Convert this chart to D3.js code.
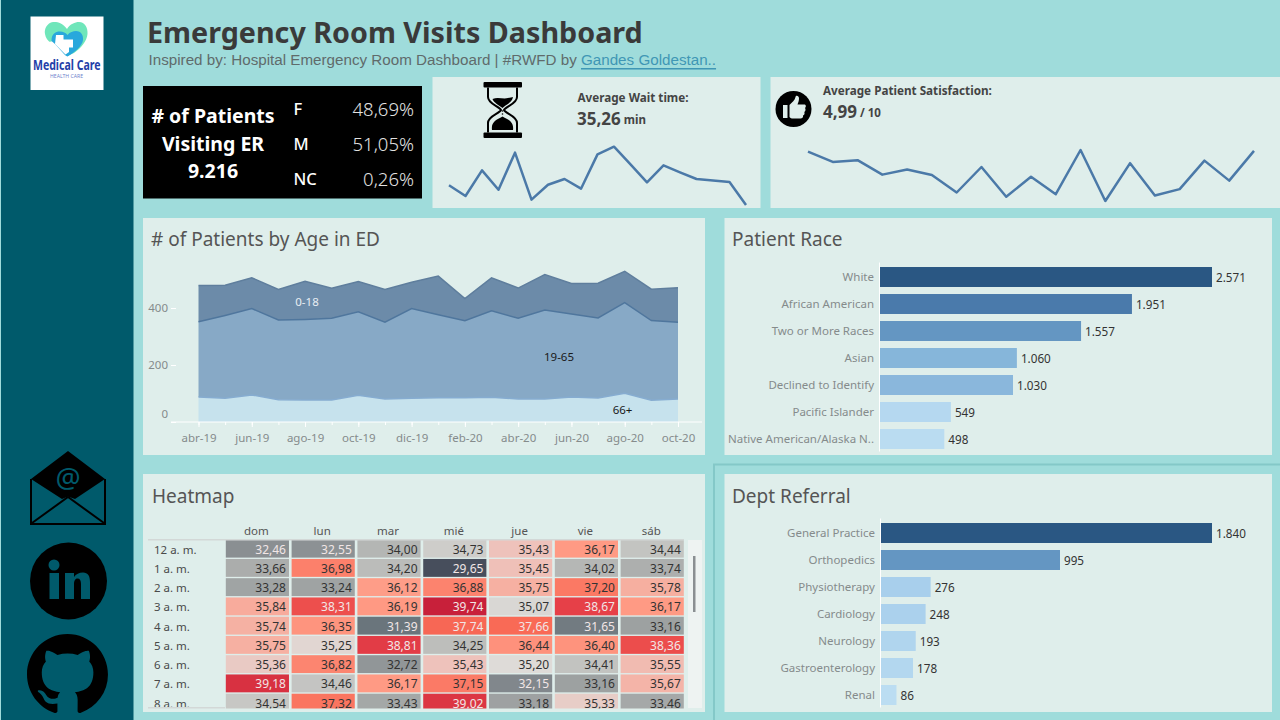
<!DOCTYPE html>
<html lang="es">
<head>
<meta charset="utf-8">
<title>Emergency Room Visits Dashboard</title>
<script src="https://cdn.jsdelivr.net/npm/d3@7"></script>
<style>
  html, body { margin: 0; padding: 0; background: #9fdcdb; overflow: hidden; }
  svg { display: block; }
  text { font-family: "Noto Sans", "Open Sans", sans-serif; }
</style>
</head>
<body>
<svg id="dash" width="1280" height="720"></svg>
<script>
// ---- Data ----------------------------------------------------------------
const months = ["abr-19","may-19","jun-19","jul-19","ago-19","sep-19","oct-19","nov-19","dic-19","ene-20",
                "feb-20","mar-20","abr-20","may-20","jun-20","jul-20","ago-20","sep-20","oct-20"];
const monthLabels = ["abr-19","jun-19","ago-19","oct-19","dic-19","feb-20","abr-20","jun-20","ago-20","oct-20"];
const ageTicks = [0, 200, 400];
const age66 =   [88,83,95,78,77,77,94,81,83,85,85,87,81,81,88,84,101,76,81];
const age1965 = [264,291,303,280,283,287,293,269,315,291,270,303,283,312,291,281,318,280,269];
const age018 =  [127,106,108,107,134,105,106,115,92,136,78,116,106,124,107,122,110,110,121];

const waitTrend = [34.69,33.77,35.97,34.31,37.49,33.46,34.74,35.23,34.40,37.34,38.00,36.49,34.94,36.40,35.80,35.23,35.11,34.97,33.00];
const satisfactionTrend = [5.56,5.32,5.36,5.02,5.14,5.01,4.60,5.20,4.50,4.97,4.56,5.60,4.40,5.29,4.53,4.68,5.35,4.88,5.58];

const raceNames = ["White","African American","Two or More Races","Asian","Declined to Identify","Pacific Islander","Native American/Alaska N.."];
const raceCounts = [2571,1951,1557,1060,1030,549,498];
const deptNames = ["General Practice","Orthopedics","Physiotherapy","Cardiology","Neurology","Gastroenterology","Renal"];
const deptCounts = [1840,995,276,248,193,178,86];

const genderLabels = ["F","M","NC"];
const genderShares = [48.69,51.05,0.26];
const totalPatients = 9216;
const avgWait = 35.26;
const avgSatisfaction = 4.99;

const weekDays = ["dom","lun","mar","mié","jue","vie","sáb"];
const hours = ["12 a. m.","1 a. m.","2 a. m.","3 a. m.","4 a. m.","5 a. m.","6 a. m.","7 a. m.","8 a. m."];
const waitByHour = [
  [32.46,32.55,34.00,34.73,35.43,36.17,34.44],
  [33.66,36.98,34.20,29.65,35.45,34.02,33.74],
  [33.28,33.24,36.12,36.88,35.75,37.20,35.78],
  [35.84,38.31,36.19,39.74,35.07,38.67,36.17],
  [35.74,36.35,31.39,37.74,37.66,31.65,33.16],
  [35.75,35.25,38.81,34.25,36.44,36.40,38.36],
  [35.36,36.82,32.72,35.43,35.20,34.41,35.55],
  [39.18,34.46,36.17,37.15,32.15,33.16,35.67],
  [34.54,37.32,33.43,39.02,33.18,35.33,33.46]
];

// ---- Palette and number formats (es locale: comma decimal, dot thousands) ----
const BG = "#9fdcdb", PANEL = "#dfeeeb", SIDE = "#005a6b", INK = "#3b3b3b", GREY = "#858b8b";
const es = d3.formatLocale({decimal: ",", thousands: ".", grouping: [3], currency: ["", "€"], percent: "%"});
const fmtInt = es.format(",d"), fmt2 = es.format(".2f");

const svg = d3.select("#dash");
const defs = svg.append("defs");

function panel(x, y, w, h) {
  svg.append("rect").attr("x", x).attr("y", y).attr("width", w).attr("height", h).attr("fill", PANEL);
}
function label(g, x, y, str, o = {}) {
  return g.append("text").attr("x", x).attr("y", y).text(str)
    .attr("dominant-baseline", "central")
    .attr("text-anchor", o.anchor || "start")
    .attr("font-size", o.size || 12)
    .attr("font-weight", o.weight || 400)
    .attr("fill", o.fill || INK);
}

// ---- Frame ---------------------------------------------------------------
svg.append("rect").attr("width", 1280).attr("height", 720).attr("fill", BG);
svg.append("rect").attr("x", 1).attr("width", 132.500).attr("height", 720).attr("fill", SIDE);
svg.append("path").attr("d", "M714,720V464.5H1280").attr("fill", "none").attr("stroke", "#84c8c8").attr("stroke-width", 2);

panel(432.5, 77, 328, 131);
panel(770.5, 77, 509.5, 131);
panel(143, 218, 562, 237);
panel(724.5, 218, 547.5, 237);
panel(143, 474, 562, 238);
panel(724.5, 474, 547.5, 238);
svg.append("rect").attr("x", 143).attr("y", 86).attr("width", 279).attr("height", 112.5).attr("fill", "#000");

// ---- Sidebar logo and contact icons -----------------------------------------
const side = svg.append("g");
side.append("rect").attr("x", 30.5).attr("y", 16.5).attr("width", 73).attr("height", 73.5).attr("fill", "#fff");
side.append("path").attr("fill", "#6fe6ba")
  .attr("d", "M67,29C63,23 57,21.500 53,22C47,23 44,29 45,34C45.500,38 48,41 51,43L67,56L74,53C81,48 87,41 87.500,34C88,28 85,22 79,22C75,22 70,24 67,29Z");
side.append("path").attr("fill", "#fff").attr("d", "M49,42L57,40L68,50V60H55Z");
side.append("path").attr("fill", "#29a8dc")
  .attr("d", "M51.500,41C51.500,34 55,31.500 60,31.500C63,31.500 66,33 67.500,35C70,32 73,31 76,31C81,31 83.500,35 83,40C82.500,46 74,53 67.500,56.500C66,56 65,55 64,54L55,44Z");
side.append("path").attr("fill", "#fff").attr("d", "M56,35H63.500V39.500H73V47.500H69V52L65.500,54.500L55,44Z");
side.append("text").attr("x", 33).attr("y", 70).attr("font-size", 13.500).attr("textLength", 67.500)
  .attr("lengthAdjust", "spacingAndGlyphs").attr("font-weight", 700).attr("fill", "#2340a8").text("Medical Care");
side.append("text").attr("x", 50).attr("y", 78).attr("font-size", 5).attr("textLength", 33)
  .attr("lengthAdjust", "spacingAndGlyphs").attr("fill", "#6f83cc").text("HEALTH CARE");

// envelope
side.append("path").attr("fill", "#000").attr("d", "M68,451L105,479L75,499L68,496.500L62,499L31,479Z");
side.append("path").attr("fill", "none").attr("stroke", "#000").attr("stroke-width", 2)
  .attr("d", "M31,479V524H105V479M32,523L68,497L104,523");
side.append("text").attr("x", 68).attr("y", 477).attr("text-anchor", "middle").attr("dominant-baseline", "central")
  .attr("font-size", 28).attr("fill", SIDE).text("@");

// LinkedIn badge
side.append("circle").attr("cx", 68.500).attr("cy", 581).attr("r", 38.500).attr("fill", "#000");
side.append("circle").attr("cx", 54).attr("cy", 565).attr("r", 5.500).attr("fill", SIDE);
side.append("rect").attr("x", 49.500).attr("y", 573).attr("width", 9.500).attr("height", 26).attr("fill", SIDE);
side.append("path").attr("fill", SIDE)
  .attr("d", "M65,573H74V577C76,574 79,572.500 83,572.500C88,572.500 90,576 90,582V599H81V584C81,580.500 80,578.500 77.500,578.500C75,578.500 74,581 74,584V599H65Z");

// GitHub mark, cut off by the lower window edge
side.append("path").attr("fill", "#000").attr("transform", "translate(27,634) scale(5.06)")
  .attr("d", "M8 0C3.58 0 0 3.58 0 8c0 3.54 2.29 6.53 5.47 7.59.4.07.55-.17.55-.38 0-.19-.01-.82-.01-1.49-2.01.37-2.53-.49-2.69-.94-.09-.23-.48-.94-.82-1.13-.28-.15-.68-.52-.01-.53.63-.01 1.08.58 1.23.82.72 1.21 1.87.87 2.33.66.07-.52.28-.87.51-1.07-1.78-.2-3.64-.89-3.64-3.95 0-.87.31-1.59.82-2.15-.08-.2-.36-1.02.08-2.12 0 0 .67-.21 2.2.82.64-.18 1.32-.27 2-.27.68 0 1.36.09 2 .27 1.53-1.04 2.2-.82 2.2-.82.44 1.1.16 1.92.08 2.12.51.56.82 1.27.82 2.15 0 3.07-1.87 3.75-3.65 3.95.29.25.54.73.54 1.48 0 1.07-.01 1.93-.01 2.2 0 .21.15.46.55.38A8.013 8.013 0 0016 8c0-4.42-3.58-8-8-8z");

// ---- Header -----------------------------------------------------------------
label(svg, 147, 31, "Emergency Room Visits Dashboard", {size: 28.700, weight: 700, fill: "#3a3a3a"});
const sub = svg.append("text").attr("x", 148.500).attr("y", 59).attr("dominant-baseline", "central")
  .attr("font-size", 15.200).attr("fill", "#5f6b6b").attr("style", "font-family:'Liberation Sans',Arial,sans-serif");
sub.append("tspan").text("Inspired by: Hospital Emergency Room Dashboard | #RWFD by ");
sub.append("tspan").attr("fill", "#3f97b5").attr("text-decoration", "underline").text("Gandes Goldestan..");

// ---- Patient count block ------------------------------------------------------
const block = svg.append("g");
label(block, 213, 115, "# of Patients", {anchor: "middle", size: 19.500, weight: 700, fill: "#fff"});
label(block, 213, 143, "Visiting ER", {anchor: "middle", size: 19.500, weight: 700, fill: "#fff"});
label(block, 213, 170, fmtInt(totalPatients), {anchor: "middle", size: 19.500, weight: 700, fill: "#fff"});
const genderY = [108, 143, 178.500];
genderLabels.forEach((g, i) => {
  label(block, 293.500, genderY[i], g, {size: 16.500, weight: 500, fill: "#fff"});
  label(block, 414, genderY[i], fmt2(genderShares[i]) + "%", {anchor: "end", size: 18.500, weight: 300, fill: "#e2e2e2"});
});

// ---- KPI cards with trend lines -------------------------------------------------
function sparkline(values, x0, x1, yLow, yHigh, domain) {
  const x = d3.scalePoint().domain(values.map((_, i) => i)).range([x0, x1]);
  const y = d3.scaleLinear().domain(domain).range([yLow, yHigh]);
  svg.append("path").attr("fill", "none").attr("stroke", "#4b79a8").attr("stroke-width", 2.500)
    .attr("stroke-linejoin", "round")
    .attr("d", d3.line().x((_, i) => x(i)).y(d => y(d))(values));
}
sparkline(waitTrend, 449, 746, 205, 146.700, [33, 38]);
sparkline(satisfactionTrend, 808, 1254, 201, 150, [4.4, 5.6]);

label(svg, 577.500, 97, "Average Wait time:", {size: 11.700, weight: 700, fill: "#444"});
const waitVal = label(svg, 577, 118.500, fmt2(avgWait), {size: 17, weight: 700, fill: "#444"});
waitVal.append("tspan").attr("font-size", 11.500).attr("dx", 3).text("min");
label(svg, 823, 89.500, "Average Patient Satisfaction:", {size: 11.700, weight: 700, fill: "#444"});
const satVal = label(svg, 823, 111.500, fmt2(avgSatisfaction), {size: 17, weight: 700, fill: "#444"});
satVal.append("tspan").attr("font-size", 11.500).attr("dx", 3).text("/ 10");

// hourglass
const hg = svg.append("g").attr("fill", "#000");
hg.append("rect").attr("x", 483.500).attr("y", 82).attr("width", 38.500).attr("height", 5.500).attr("rx", 1);
hg.append("rect").attr("x", 483.500).attr("y", 132.500).attr("width", 38.500).attr("height", 5.500).attr("rx", 1);
hg.append("path").attr("fill", "none").attr("stroke", "#000").attr("stroke-width", 2)
  .attr("d", "M488,87.500V97C488,104 499,106 501,110C499,114 488,116 488,123V132.500M517,87.500V97C517,104 506,106 504,110C506,114 517,116 517,123V132.500");
hg.append("path").attr("d", "M492.500,99C498,96.500 503,99.500 508,98C510,97.500 512,97.500 513,97C512,103 505,105 502.500,108C499,105 494,103 492.500,99Z");
hg.append("path").attr("d", "M492,130C491,122 496,120 502.500,116.500C509,120 514,122 513,130Z");
hg.append("circle").attr("cx", 502.500).attr("cy", 111).attr("r", 0.800);
hg.append("circle").attr("cx", 502.500).attr("cy", 114).attr("r", 0.800);

// thumbs-up badge
svg.append("circle").attr("cx", 793.500).attr("cy", 109).attr("r", 18).attr("fill", "#000");
svg.append("path").attr("fill", PANEL)
  .attr("d", "M783,105H787.500V118H783ZM789.500,105C792,102.500 795,100 795.500,97C795.800,95 799,95.500 799,98.500C799,101 798,103 797.500,104.500H804C806,104.500 806.500,106.500 805,108C806,109.500 805.500,111 804.300,112C805,113.500 804.300,115 803,115.500C803.500,117.500 802,118.500 800.500,118.500H793C791.500,118.500 790.500,118 789.500,117Z");

// ---- Patients by age: stacked area ---------------------------------------------
const ageChart = svg.append("g");
label(ageChart, 151, 239, "# of Patients by Age in ED", {size: 19, fill: "#555"});
const ageX = d3.scalePoint().domain(months).range([198.500, 678]);
const ageY = d3.scaleLinear().domain([0, 400]).range([422, 308]);
const ageRows = months.map((m, i) => ({month: m, "66+": age66[i], "19-65": age1965[i], "0-18": age018[i]}));
const ageKeys = ["66+", "19-65", "0-18"];
const ageFill = {"66+": "#c6e2ed", "19-65": "#87a9c6", "0-18": "#6c8ba9"};
const ageEdge = {"66+": "#86acd0", "19-65": "#4f769d", "0-18": "#5f7e9d"};
const layers = d3.stack().keys(ageKeys)(ageRows);
ageChart.selectAll("path.band").data(layers).join("path").attr("class", "band")
  .attr("fill", d => ageFill[d.key])
  .attr("d", d3.area().x(d => ageX(d.data.month)).y0(d => ageY(d[0])).y1(d => ageY(d[1])));
ageChart.selectAll("path.edge").data(layers).join("path").attr("class", "edge")
  .attr("fill", "none").attr("stroke", d => ageEdge[d.key]).attr("stroke-width", 1.500)
  .attr("d", d3.line().x(d => ageX(d.data.month)).y(d => ageY(d[1])));
label(ageChart, 307, 301.500, "0-18", {anchor: "middle", size: 11.500, fill: "#e8eef3"});
label(ageChart, 559, 356.500, "19-65", {anchor: "middle", size: 11.500, fill: "#1a1a1a"});
label(ageChart, 622.500, 409.500, "66+", {anchor: "middle", size: 11.500, fill: "#1a1a1a"});

// white baseline with small ticks for every month, longer for the labelled ones
const minorAxis = ageChart.append("g").attr("transform", "translate(0,422)")
  .call(d3.axisBottom(ageX).tickSize(3).tickFormat(""));
minorAxis.select(".domain").remove();
minorAxis.selectAll("line").attr("stroke", "#fff");
const majorAxis = ageChart.append("g").attr("transform", "translate(0,422)")
  .call(d3.axisBottom(ageX).tickValues(monthLabels).tickSize(5).tickPadding(7));
majorAxis.select(".domain").remove();
majorAxis.selectAll("line").attr("stroke", "#fff");
majorAxis.selectAll("text").attr("fill", GREY).attr("font-size", 11.500);
ageChart.append("line").attr("x1", 171).attr("x2", 702).attr("y1", 422).attr("y2", 422).attr("stroke", "#fff").attr("stroke-width", 1);
const yAxis = ageChart.append("g").attr("transform", "translate(176,0)")
  .call(d3.axisLeft(ageY).tickValues(ageTicks).tickSize(5).tickPadding(3).tickFormat(d3.format("d")));
yAxis.select(".domain").remove();
yAxis.selectAll("line").attr("stroke", "#fff");
yAxis.selectAll("text").attr("fill", GREY).attr("font-size", 11.500)
  .attr("dy", d => d === 0 ? "-0.35em" : "0.32em");

// ---- Horizontal bar charts -------------------------------------------------------
function barChart(title, titleY, names, counts, shades, y0, x0) {
  const g = svg.append("g");
  label(g, 732, titleY, title, {size: 19, fill: "#555"});
  const x = d3.scaleLinear().domain([0, d3.max(counts)]).range([x0, 1212]);
  const y = d3.scaleBand().domain(names).range([y0, y0 + 27 * names.length]).paddingInner(0.26).paddingOuter(0.13);
  const color = d3.scaleOrdinal().domain(names).range(shades);
  g.append("line").attr("x1", x0 - 0.5).attr("x2", x0 - 0.5).attr("y1", y0 - 1).attr("y2", y0 + 27 * names.length - 1)
    .attr("stroke", "#fff").attr("stroke-width", 1);
  g.selectAll("rect").data(names).join("rect")
    .attr("x", x0).attr("y", d => y(d)).attr("height", y.bandwidth())
    .attr("width", (d, i) => x(counts[i]) - x0).attr("fill", d => color(d));
  const axis = g.append("g").attr("transform", `translate(${x0 - 6},0)`)
    .call(d3.axisLeft(y).tickSize(0).tickPadding(0));
  axis.select(".domain").remove();
  axis.selectAll("text").attr("fill", GREY).attr("font-size", 11.500);
  g.selectAll("text.val").data(names).join("text").attr("class", "val")
    .attr("x", (d, i) => x(counts[i]) + 4).attr("y", d => y(d) + y.bandwidth() / 2 - 0.5)
    .attr("dominant-baseline", "central").attr("font-size", 11.700).attr("fill", "#333")
    .text((d, i) => fmtInt(counts[i]));
}
barChart("Patient Race", 239, raceNames, raceCounts,
  ["#2a5783","#4a7aab","#6496c2","#86b6da","#8ab7dc","#b5d8f0","#badcf1"], 263.500, 880);
barChart("Dept Referral", 496, deptNames, deptCounts,
  ["#2a5783","#6496c2","#a8cfec","#abd1ed","#b0d5ee","#b3d7ef","#bbddf2"], 519.500, 881);

// ---- Heatmap -----------------------------------------------------------------------
const heat = svg.append("g");
label(heat, 152, 496, "Heatmap", {size: 19, fill: "#555"});
defs.append("clipPath").attr("id", "heatClip").append("rect").attr("x", 143).attr("y", 520).attr("width", 562).attr("height", 188.500);
const heatBody = heat.append("g").attr("clip-path", "url(#heatClip)");
const colX = d3.scaleBand().domain(weekDays).range([225.800, 683.800]).paddingInner(0.04).paddingOuter(0);
const rowY = d3.scaleBand().domain(hours).range([539.700, 711.600]).paddingInner(0.07).paddingOuter(0);
const heatColor = d3.scaleLinear()
  .domain([29.65, 31.39, 32.46, 34.00, 35.20, 35.45, 36.17, 37.66, 38.67, 39.74])
  .range(["#474e5c","#6a757c","#8a8f92","#b4b6b4","#dedbd8","#efc0b8","#ff9a84","#f96a56","#e64048","#c8203a"]);

// header rules, scroll track and scroll thumb
heat.append("rect").attr("x", 688).attr("y", 540).attr("width", 14).attr("height", 168).attr("fill", "#eef3f2");
heat.append("rect").attr("x", 693).attr("y", 556).attr("width", 2.500).attr("height", 56).attr("fill", "#8a8f92");
heat.append("rect").attr("x", 148).attr("y", 539).attr("width", 536).attr("height", 1.500).attr("fill", "#d3d8d7");
heat.append("rect").attr("x", 148).attr("y", 707).attr("width", 77).attr("height", 1.500).attr("fill", "#d3d8d7");

weekDays.forEach(d => label(heat, colX(d) + colX.bandwidth() / 2 - 1, 530.500, d, {anchor: "middle", size: 11.500, fill: "#555"}));
hours.forEach(h => label(heatBody, 154, rowY(h) + rowY.bandwidth() / 2 + 0.5, h, {size: 11.500, fill: "#4a4a4a"}));

const cells = hours.flatMap((h, r) => weekDays.map((d, c) => ({h, d, v: waitByHour[r][c]})));
heatBody.selectAll("rect.cell").data(cells).join("rect").attr("class", "cell")
  .attr("x", d => colX(d.d)).attr("y", d => rowY(d.h))
  .attr("width", colX.bandwidth()).attr("height", rowY.bandwidth())
  .attr("fill", d => heatColor(d.v));
heatBody.selectAll("text.cellv").data(cells).join("text").attr("class", "cellv")
  .attr("x", d => colX(d.d) + colX.bandwidth() - 3).attr("y", d => rowY(d.h) + rowY.bandwidth() / 2 + 0.5)
  .attr("text-anchor", "end").attr("dominant-baseline", "central").attr("font-size", 12)
  .attr("fill", d => (d.v < 32.6 || d.v > 37.5) ? "#f1e6e6" : "#333")
  .text(d => fmt2(d.v));
</script>
</body>
</html>
